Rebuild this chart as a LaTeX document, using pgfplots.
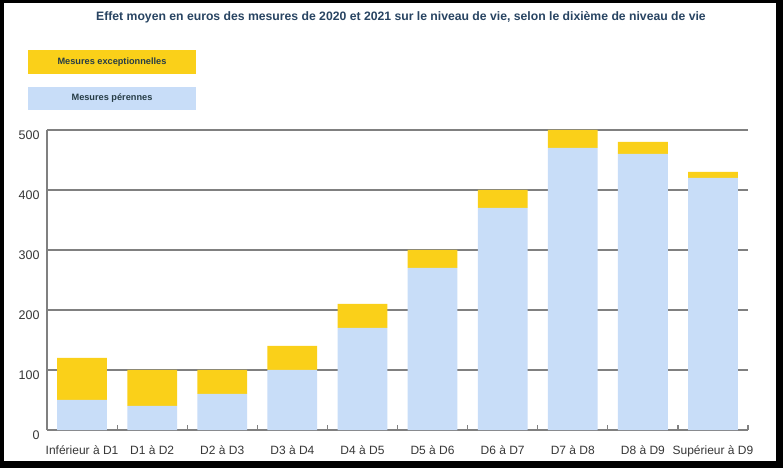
\documentclass[border=0pt]{standalone}
\usepackage{pgfplots}
\pgfplotsset{compat=1.18}
\usepackage{fontspec}
\setmainfont{Liberation Sans}
\definecolor{ylw}{RGB}{250,208,25}
\definecolor{lblue}{RGB}{200,221,248}
\definecolor{ttl}{RGB}{40,68,98}
\definecolor{lgt}{RGB}{38,60,70}
\definecolor{grd}{RGB}{128,128,128}
\definecolor{lbl}{RGB}{55,55,55}
\begin{document}
\begin{tikzpicture}[x=1pt,y=1pt]
\fill[black] (0,0) rectangle (783,468);
\fill[white] (4,7) rectangle (776,465);
\node[font=\fontsize{12.2}{14}\selectfont\bfseries, text=ttl] at (401,451) {Effet moyen en euros des mesures de 2020 et 2021 sur le niveau de vie, selon le dixième de niveau de vie};
\fill[ylw] (28,394) rectangle (196,418);
\node[font=\fontsize{9.2}{11}\selectfont\bfseries, text=lgt] at (112,406) {Mesures exceptionnelles};
\fill[lblue] (28,358) rectangle (196,381);
\node[font=\fontsize{9.2}{11}\selectfont\bfseries, text=lgt] at (112,369.5) {Mesures pérennes};
\begin{axis}[
  at={(47pt,38pt)}, anchor=south west,
  scale only axis, width=701pt, height=300pt,
  ybar stacked, bar width=0.71,
  xmin=-0.5, xmax=9.5, ymin=0, ymax=500,
  xtick={0,...,9},
  xticklabels={Inférieur à D1, D1 à D2, D2 à D3, D3 à D4, D4 à D5, D5 à D6, D6 à D7, D7 à D8, D8 à D9, Supérieur à D9},
  minor xtick={0.5,1.5,...,9.5},
  ytick={0,100,...,500},
  major tick length=0pt, minor tick length=5pt, tick align=inside,
  minor tick style={grd, line width=1.2pt},
  ymajorgrids, grid style={grd, line width=1.3pt},
  axis x line*=bottom, axis y line*=left,
  axis line style={grd, line width=1.3pt, -},
  /pgf/number format/assume math mode=true,
  tick label style={text=lbl},
  xticklabel style={font=\fontsize{12}{14}\selectfont, yshift=-12pt},
  yticklabel style={font=\fontsize{12.5}{14}\selectfont, xshift=-4pt, yshift=-5pt},
]
\addplot[fill=lblue, draw=none] coordinates {(0,50) (1,40) (2,60) (3,100) (4,170) (5,270) (6,370) (7,470) (8,460) (9,420)};
\addplot[fill=ylw, draw=none] coordinates {(0,70) (1,60) (2,40) (3,40) (4,40) (5,30) (6,30) (7,30) (8,20) (9,10)};
\end{axis}
\end{tikzpicture}
\end{document}
